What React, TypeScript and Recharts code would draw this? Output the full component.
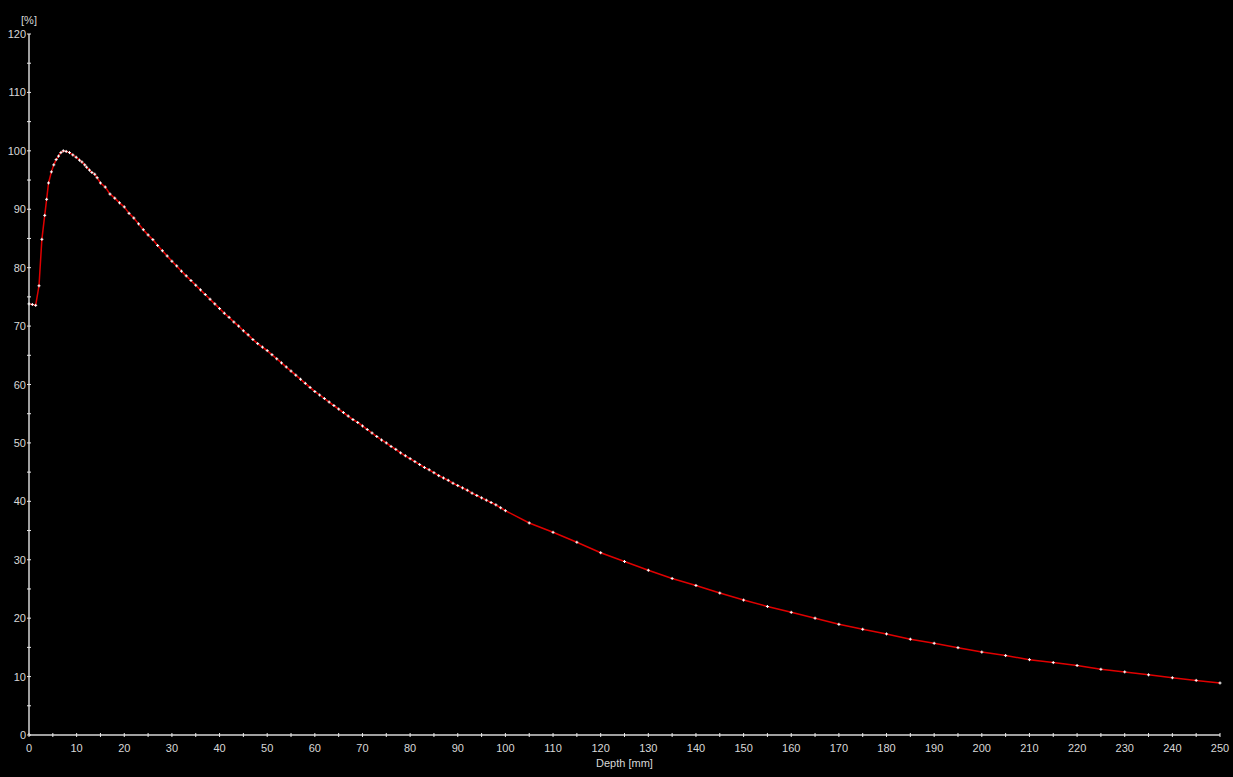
import React from "react";
import { LineChart, Line, XAxis, YAxis, Label } from "recharts";

// Depth [mm] of each measured point
const depths: number[] = [
  0, 0.7, 1.4, 2.1, 2.7, 3.3, 3.7, 4.1, 4.7, 5.2, 5.7, 6.2, 6.7, 7.2, 7.8, 8.5, 9.2, 9.9,
  10.6, 11.1, 11.7, 12.1, 12.7, 13.2, 13.8, 14.3, 15,
  16, 17, 18, 19, 20, 21, 22, 23, 24, 25, 26, 27, 28, 29, 30,
  31, 32, 33, 34, 35, 36, 37, 38, 39, 40, 41, 42, 43, 44, 45, 46, 47, 48, 49, 50,
  51, 52, 53, 54, 55, 56, 57, 58, 59, 60, 61, 62, 63, 64, 65, 66, 67, 68, 69, 70,
  71, 72, 73, 74, 75, 76, 77, 78, 79, 80, 81, 82, 83, 84, 85, 86, 87, 88, 89, 90,
  91, 92, 93, 94, 95, 96, 97, 98, 99, 100,
  105, 110, 115, 120, 125, 130, 135, 140, 145, 150, 155, 160, 165, 170, 175, 180,
  185, 190, 195, 200, 205, 210, 215, 220, 225, 230, 235, 240, 245, 250,
];

// Relative dose [%]
const doses: number[] = [
  73.8, 73.7, 73.55, 76.9, 84.85, 88.95, 91.7, 94.5, 96.4, 97.6, 98.5, 99.1, 99.7, 100.0, 99.9, 99.7, 99.3, 98.9,
  98.4, 98.1, 97.6, 97.2, 96.7, 96.3, 96.0, 95.4, 94.5,
  93.8, 92.6, 91.9, 91.1, 90.4, 89.3, 88.5, 87.5, 86.5, 85.6, 84.8, 83.8, 82.9, 82.0, 81.1,
  80.3, 79.4, 78.6, 77.8, 77.0, 76.2, 75.4, 74.6, 73.8, 73.0, 72.2, 71.5, 70.7, 70.0, 69.2, 68.5, 67.7, 67.0, 66.4, 65.8,
  65.1, 64.4, 63.7, 63.0, 62.3, 61.6, 60.9, 60.2, 59.5, 58.8, 58.2, 57.6, 57.0, 56.4, 55.8, 55.2, 54.6, 54.0, 53.5, 52.9,
  52.3, 51.7, 51.1, 50.5, 50.0, 49.4, 48.9, 48.3, 47.8, 47.3, 46.8, 46.3, 45.8, 45.4, 44.9, 44.4, 44.0, 43.6, 43.1, 42.7,
  42.3, 41.9, 41.4, 41.0, 40.6, 40.2, 39.8, 39.4, 38.9, 38.4,
  36.3, 34.7, 33.0, 31.2, 29.7, 28.2, 26.8, 25.6, 24.3, 23.1, 22.0, 21.0, 20.0, 18.95, 18.1, 17.3,
  16.4, 15.7, 14.95, 14.2, 13.6, 12.9, 12.4, 11.9, 11.25, 10.8, 10.3, 9.8, 9.35, 8.9,
];

const xTicks: number[] = [
  0, 5, 10, 15, 20, 25, 30, 35, 40, 45, 50, 55, 60, 65, 70, 75, 80, 85, 90, 95, 100,
  105, 110, 115, 120, 125, 130, 135, 140, 145, 150, 155, 160, 165, 170, 175, 180, 185,
  190, 195, 200, 205, 210, 215, 220, 225, 230, 235, 240, 245, 250,
];
const yTicks: number[] = [
  0, 5, 10, 15, 20, 25, 30, 35, 40, 45, 50, 55, 60, 65, 70, 75, 80, 85, 90, 95, 100,
  105, 110, 115, 120,
];

const data = depths.map((d, i) => ({ depth: d, dose: doses[i] }));

const FONT = "'Liberation Sans Narrow', 'Liberation Sans', Arial, sans-serif";
const TEXT = "#d8d8d8";
const TICK = "#e8e8e8";
const AXIS = "#a0a0a0";

const XTick = (props: any) => {
  const { x, y, payload } = props;
  const v = payload.value;
  return (
    <g>
      <line x1={x} x2={x} y1={y - 2} y2={y + 2} stroke={TICK} strokeWidth={1} />
      {v % 10 === 0 && (
        <text x={x} y={y + 17} fill={TEXT} fontSize={11} fontFamily={FONT} textAnchor="middle">
          {v}
        </text>
      )}
    </g>
  );
};

const YTick = (props: any) => {
  const { x, y, payload } = props;
  const v = payload.value;
  return (
    <g>
      <line x1={x - 2} x2={x + 2} y1={y} y2={y} stroke={TICK} strokeWidth={1} />
      {v % 10 === 0 && (
        <text x={x - 3} y={y + 4} fill={TEXT} fontSize={11} fontFamily={FONT} textAnchor="end">
          {v}
        </text>
      )}
    </g>
  );
};

const Dot = (props: any) => {
  const { cx, cy, index } = props;
  if (cx == null || cy == null) return <g key={index} />;
  return (
    <g key={index}>
      <rect x={cx - 1.5} y={cy - 0.5} width={3} height={1} fill="#ffffff" />
      <rect x={cx - 0.5} y={cy - 1.5} width={1} height={3} fill="#ffffff" />
    </g>
  );
};

export default function App() {
  return (
    <div style={{ position: "fixed", left: 0, top: 0, width: 1233, height: 777, background: "#000" }}>
      <LineChart width={1233} height={777} data={data} margin={{ top: 34, right: 13, bottom: 0, left: 0 }}>
        <XAxis
          dataKey="depth"
          type="number"
          domain={[0, 250]}
          ticks={xTicks}
          interval={0}
          height={42}
          tickSize={0}
          tickMargin={0}
          tickLine={false}
          tick={<XTick />}
          axisLine={{ stroke: AXIS, strokeWidth: 2 }}
        >
          <Label
            content={(p: any) => {
              const vb = p.viewBox || {};
              return (
                <text x={vb.x + vb.width / 2} y={vb.y + 32} fill={TEXT} fontSize={11} fontFamily={FONT} textAnchor="middle">
                  Depth [mm]
                </text>
              );
            }}
          />
        </XAxis>
        <YAxis
          type="number"
          domain={[0, 120]}
          ticks={yTicks}
          interval={0}
          width={29}
          tickSize={0}
          tickMargin={0}
          tickLine={false}
          tick={<YTick />}
          axisLine={{ stroke: AXIS, strokeWidth: 2 }}
        >
          <Label
            content={(p: any) => {
              const vb = p.viewBox || {};
              return (
                <text x={vb.x + vb.width} y={vb.y - 10} fill={TEXT} fontSize={11} fontFamily={FONT} textAnchor="middle">
                  [%]
                </text>
              );
            }}
          />
        </YAxis>
        <Line
          dataKey="dose"
          type="linear"
          stroke="#e00000"
          strokeWidth={1.5}
          dot={<Dot />}
          activeDot={false}
          isAnimationActive={false}
        />
      </LineChart>
    </div>
  );
}
